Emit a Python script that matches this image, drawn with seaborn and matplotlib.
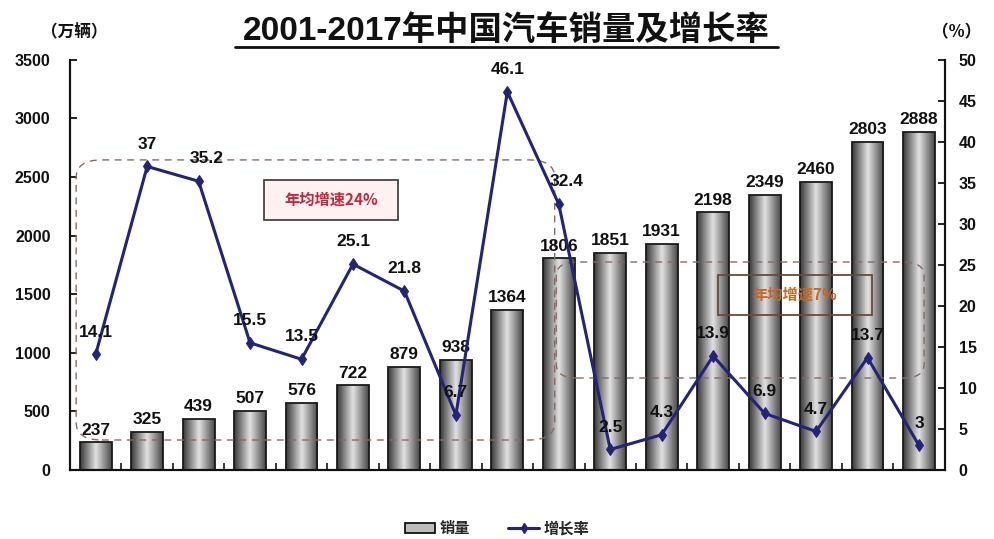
import numpy as np
import pandas as pd
import matplotlib
matplotlib.use("Agg")
import matplotlib.pyplot as plt
from matplotlib.patches import FancyBboxPatch, Patch, Rectangle
from matplotlib.lines import Line2D
import seaborn as sns

years = ["2001", "2002", "2003", "2004", "2005", "2006", "2007", "2008", "2009",
         "2010", "2011", "2012", "2013", "2014", "2015", "2016", "2017"]
sales = [237, 325, 439, 507, 576, 722, 879, 938, 1364, 1806, 1851, 1931, 2198,
         2349, 2460, 2803, 2888]
growth = [14.1, 37, 35.2, 15.5, 13.5, 25.1, 21.8, 6.7, 46.1, 32.4, 2.5, 4.3,
          13.9, 6.9, 4.7, 13.7, 3]
growth_labels = ["14.1", "37", "35.2", "15.5", "13.5", "25.1", "21.8", "6.7", "46.1",
                 "32.4", "2.5", "4.3", "13.9", "6.9", "4.7", "13.7", "3"]
title = "2001-2017年中国汽车销量及增长率"
left_unit = "（万辆）"
right_unit = "（%）"
box1_text = "年均增速24%"
box2_text = "年均增速7%"
legend_names = ["销量", "增长率"]

sns.set_theme(style="white")
plt.rcParams["font.family"] = ["Liberation Sans", "Noto Sans CJK SC", "DejaVu Sans"]
plt.rcParams["font.weight"] = "bold"

df = pd.DataFrame({"year": years, "sales": sales, "growth": growth})

fig = plt.figure(figsize=(9.94, 5.39), dpi=100)
ax = fig.add_axes([0.0704, 0.128, 0.880, 0.761])

sns.barplot(data=df, x="year", y="sales", ax=ax, color="#9a9a9a",
            edgecolor="#1a1a1a", linewidth=1.3, width=0.62, saturation=1)

# gradient fill for bars
grad = np.concatenate([np.linspace(0.22, 0.88, 64), np.linspace(0.88, 0.28, 64)])
grad = grad.reshape(1, -1)
for p in ax.patches:
    x0, y0 = p.get_x(), p.get_y()
    w, h = p.get_width(), p.get_height()
    im = ax.imshow(grad, extent=[x0, x0 + w, y0, y0 + h], aspect="auto",
                   cmap="gray", vmin=0, vmax=1, zorder=p.get_zorder() - 0.1,
                   interpolation="bicubic")
    im.set_clip_path(p)
    p.set_facecolor("none")
    p.set_zorder(3)

ax.set_xlim(-0.5, len(years) - 0.5)
ax.set_ylim(0, 3500)
ax.set_yticks(np.arange(0, 3501, 500))
ax.set_xlabel("")
ax.set_ylabel("")
for i, v in enumerate(sales):
    ax.text(i, v + 40, str(v), ha="center", va="bottom", fontsize=12.5,
            fontweight="bold", color="#111111", zorder=6)

ax2 = ax.twinx()
sns.lineplot(x=np.arange(len(years)), y=growth, ax=ax2, color="#23237a",
             linewidth=2.2, marker="d", markersize=6, markeredgecolor="#23237a",
             zorder=5)
ax2.set_ylim(0, 50)
ax2.set_yticks(np.arange(0, 51, 5))
ax2.set_xlim(-0.5, len(years) - 0.5)
for i, (v, lab) in enumerate(zip(growth, growth_labels)):
    dx = 0.0
    if lab in ("35.2", "32.4"):
        dx = 0.15
    ax2.text(i + dx, v + 1.8, lab, ha="center", va="bottom", fontsize=12.5,
             fontweight="bold", color="#111111", zorder=7)

# dashed rounded regions
r1 = FancyBboxPatch((-0.38, 256), 9.3, 2390, boxstyle="round,pad=0,rounding_size=0.5",
                    mutation_aspect=300, fill=False, edgecolor="#8a6a60",
                    linestyle=(0, (5, 4)), linewidth=1.0, zorder=4)
ax.add_patch(r1)
r2 = FancyBboxPatch((8.95, 785), 7.15, 990, boxstyle="round,pad=0,rounding_size=0.4",
                    mutation_aspect=300, fill=False, edgecolor="#8a6a60",
                    linestyle=(0, (5, 4)), linewidth=1.0, zorder=4)
ax.add_patch(r2)

# annotation boxes
ax.add_patch(Rectangle((3.28, 2134), 2.6, 342, facecolor="#fdf1f1",
                       edgecolor="#444444", linewidth=1.3, zorder=8))
ax.text(4.58, 2305, box1_text, ha="center", va="center", fontsize=11,
        color="#c0283a", zorder=9, family=["Noto Sans CJK SC", "DejaVu Sans"])
ax.add_patch(Rectangle((12.09, 1323), 2.99, 342, facecolor="none",
                       edgecolor="#6a4a3a", linewidth=1.3, zorder=8))
ax.text(13.58, 1494, box2_text, ha="center", va="center", fontsize=11,
        color="#c06a28", zorder=9, family=["Noto Sans CJK SC", "DejaVu Sans"])

# spines and ticks
for a in (ax, ax2):
    a.spines["top"].set_visible(False)
    for s in ("left", "right", "bottom"):
        a.spines[s].set_color("#111111")
        a.spines[s].set_linewidth(1.5)
ax.tick_params(axis="y", direction="in", length=5, width=1.3, labelsize=11.5,
               colors="#111111", pad=14)
ax2.tick_params(axis="y", direction="in", length=5, width=1.3, labelsize=11.5,
                colors="#111111", pad=10)
ax.tick_params(axis="x", length=0, labelsize=11.5, colors="#111111", pad=8)
ax.set_xticks(np.arange(0.5, len(years) - 1, 1.0), minor=True)
ax.tick_params(axis="x", which="minor", direction="in", length=5, width=1.3,
               bottom=True)
ax2.set_xticks([])
for lbl in ax.get_xticklabels() + ax.get_yticklabels() + ax2.get_yticklabels():
    lbl.set_fontweight("bold")

# titles
fig.text(0.509, 0.942, title, ha="center", va="center", fontsize=24,
         fontweight="bold", color="#111111",
         family=["Liberation Sans", "Noto Sans CJK SC", "DejaVu Sans"])
fig.add_artist(Line2D([0.236, 0.783], [0.913, 0.913], color="#111111",
                      linewidth=2.0))
fig.text(0.075, 0.94, left_unit, ha="center", va="center", fontsize=12,
         fontweight="bold", color="#111111",
         family=["Noto Sans CJK SC", "DejaVu Sans"])
fig.text(0.962, 0.94, right_unit, ha="center", va="center", fontsize=12,
         fontweight="bold", color="#111111",
         family=["Noto Sans CJK SC", "DejaVu Sans"])

# legend
handles = [Patch(facecolor="#bdbdbd", edgecolor="#111111", linewidth=1.3),
           Line2D([0], [0], color="#23237a", linewidth=2.2, marker="d",
                  markersize=5)]
fig.legend(handles, legend_names, loc="center", bbox_to_anchor=(0.5, 0.02),
           ncol=2, frameon=False, handlelength=2.0,
           handletextpad=0.3, columnspacing=2.5,
           prop={"family": ["Noto Sans CJK SC", "DejaVu Sans"],
                 "weight": "bold", "size": 11})

fig.savefig("out.png", dpi=100, facecolor="white")
